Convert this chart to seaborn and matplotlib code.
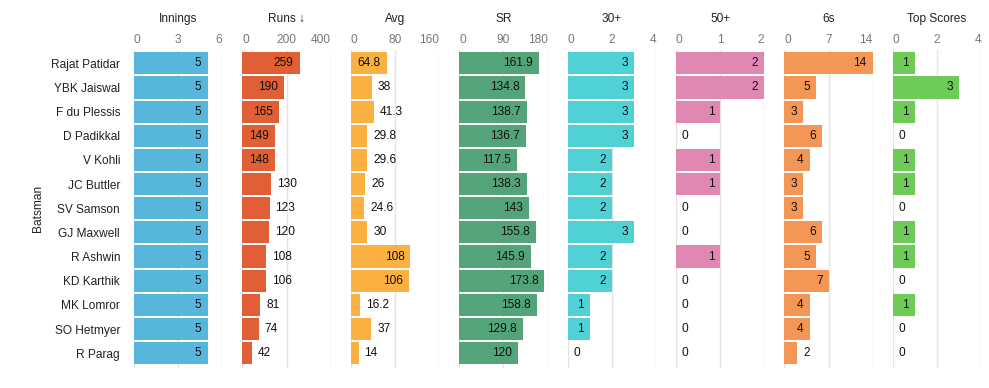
import pandas as pd
import seaborn as sns
import matplotlib.pyplot as plt

# Data
batsmen = ["Rajat Patidar", "YBK Jaiswal", "F du Plessis", "D Padikkal", "V Kohli",
           "JC Buttler", "SV Samson", "GJ Maxwell", "R Ashwin", "KD Karthik",
           "MK Lomror", "SO Hetmyer", "R Parag"]
innings = [5, 5, 5, 5, 5, 5, 5, 5, 5, 5, 5, 5, 5]
runs = [259, 190, 165, 149, 148, 130, 123, 120, 108, 106, 81, 74, 42]
avg = [64.8, 38, 41.3, 29.8, 29.6, 26, 24.6, 30, 108, 106, 16.2, 37, 14]
sr = [161.9, 134.8, 138.7, 136.7, 117.5, 138.3, 143, 155.8, 145.9, 173.8, 158.8, 129.8, 120]
thirties = [3, 3, 3, 3, 2, 2, 2, 3, 2, 2, 1, 1, 0]
fifties = [2, 2, 1, 0, 1, 1, 0, 0, 1, 0, 0, 0, 0]
sixes = [14, 5, 3, 6, 4, 3, 3, 6, 5, 7, 4, 4, 2]
top_scores = [1, 3, 1, 0, 1, 1, 0, 1, 1, 0, 1, 0, 0]

titles = ["Innings", "Runs \u2193", "Avg", "SR", "30+", "50+", "6s", "Top Scores"]
series = [innings, runs, avg, sr, thirties, fifties, sixes, top_scores]
ticks = [[0, 3, 6], [0, 200, 400], [0, 80, 160], [0, 90, 180],
         [0, 2, 4], [0, 1, 2], [0, 7, 14], [0, 2, 4]]
colors = ["#56b6db", "#e05f35", "#fdb042", "#54a47a",
          "#4fd1d5", "#e088b2", "#f49656", "#6ccc55"]

sns.set_style("white")
plt.rcParams["font.family"] = ["Liberation Sans", "DejaVu Sans"]
plt.rcParams["font.size"] = 8.6

W, H = 989, 388
fig = plt.figure(figsize=(W / 100, H / 100), dpi=100)

ax_w = 88.3
for i, (title, vals, tk, col) in enumerate(zip(titles, series, ticks, colors)):
    left = 134 + i * 108.4
    ax = fig.add_axes([left / W, 20.3 / H, ax_w / W, 317.7 / H])
    df = pd.DataFrame({"Batsman": batsmen, "value": vals})
    ax.set_axisbelow(True)
    for t in tk:
        ax.axvline(t, color="#e4e4e4", lw=1, zorder=0)
    sns.barplot(data=df, x="value", y="Batsman", color=col, orient="h",
                width=0.917, saturation=1, linewidth=0, ax=ax, zorder=2)
    ax.set_xlim(tk[0], tk[-1])
    ax.set_ylim(12.6, -0.55)
    ax.set_xticks(tk)
    ax.xaxis.tick_top()
    ax.tick_params(axis="x", length=0, pad=3, labelcolor="#777777", labelsize=8.6)
    labels = ax.set_xticklabels([str(t) for t in tk])
    labels[0].set_ha("left")
    labels[-1].set_ha("right")
    ax.set_xlabel("")
    ax.set_title(title, pad=20, fontsize=8.6, color="#222222")
    for s in ax.spines.values():
        s.set_visible(False)
    if i == 0:
        ax.tick_params(axis="y", length=0, pad=10, labelcolor="#222222", labelsize=8.6)
        ax.set_ylabel("Batsman", fontsize=8.6, color="#222222", labelpad=5)
    else:
        ax.set_yticks([])
        ax.set_ylabel("")

    # value labels: inside the bar if they fit, otherwise just past its end
    for j, v in enumerate(vals):
        txt = f"{v:g}"
        tw = sum(3.3 if c == "." else 6.7 for c in txt)
        bar_px = v / tk[-1] * ax_w
        if bar_px >= tw + 10:
            ax.annotate(txt, (v, j), xytext=(-4.3, 0), textcoords="offset points",
                        ha="right", va="center", fontsize=8.6, color="#111111", zorder=3)
        else:
            ax.annotate(txt, (v, j), xytext=(4.3, 0), textcoords="offset points",
                        ha="left", va="center", fontsize=8.6, color="#111111", zorder=3)

fig.savefig("out.png", dpi=100)
